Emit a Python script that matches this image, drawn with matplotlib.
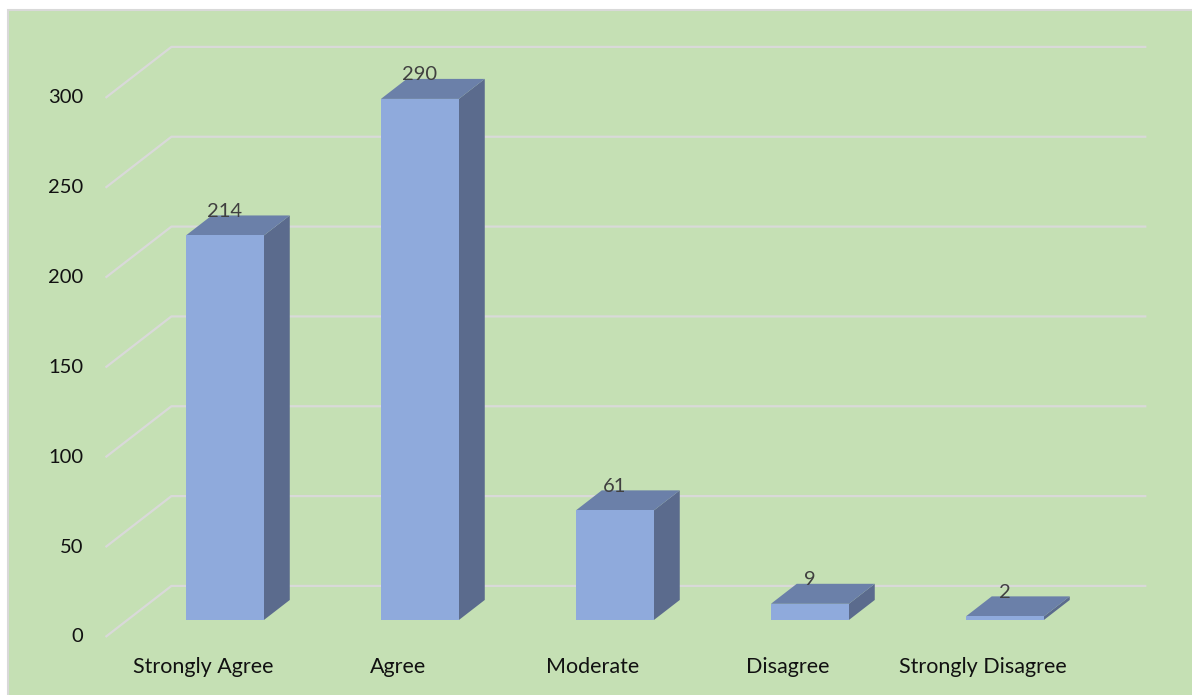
import numpy as np
import matplotlib
matplotlib.use('Agg')
import matplotlib.pyplot as plt
from matplotlib.patches import Polygon, Rectangle

# Survey responses
categories = ['Strongly Agree', 'Agree', 'Moderate', 'Disagree', 'Strongly Disagree']
counts = [214, 290, 61, 9, 2]
yticks = [0, 50, 100, 150, 200, 250, 300]

plt.rcParams['font.family'] = ['Lato', 'DejaVu Sans']

# fake 3D: oblique depth offset (category units, value units)
DX, DY = 0.338, 28.4
F0, F1 = 0.333, 0.725   # bar front / back depth fraction
BW = 0.4

fig = plt.figure(figsize=(11.92, 6.95), dpi=100)
ax = fig.add_axes([0, 0, 1, 1])
ax.set_xlim(-1.041, 5.072)
ax.set_ylim(-32.3, 354.5)
ax.axis('off')

# chart area background (runs off the right and bottom edges)
ax.add_patch(Rectangle((8 / 1192, -0.05), 1.1, 685 / 695 + 0.05, transform=ax.transAxes,
                       facecolor='#C5E0B4', edgecolor='#D9D9D9', lw=1.5, zorder=0))

# gridlines on side and back walls
x_left, x_right = -0.5, len(categories) - 0.5
for v in yticks:
    ax.plot([x_left, x_left + DX, x_right + DX], [v, v + DY, v + DY],
            color='#D9D9D9', lw=1.6, zorder=1, solid_capstyle='butt')
    ax.annotate(str(v), (x_left, v), xytext=(-16, 0), textcoords='offset points',
                ha='right', va='center', fontsize=14.5, color='#111111')

for i, (name, h) in enumerate(zip(categories, counts)):
    x0 = i - BW / 2 + F0 * DX
    x1 = i + BW / 2 + F0 * DX
    y0 = F0 * DY
    y1 = h + F0 * DY
    ddx, ddy = (F1 - F0) * DX, (F1 - F0) * DY
    side = [(x1, y0), (x1, y1), (x1 + ddx, y1 + ddy), (x1 + ddx, y0 + ddy)]
    top = [(x0, y1), (x1, y1), (x1 + ddx, y1 + ddy), (x0 + ddx, y1 + ddy)]
    ax.add_patch(Polygon(side, closed=True, facecolor='#5B6B8D', edgecolor='none', zorder=3))
    ax.add_patch(Polygon(top, closed=True, facecolor='#6B80A9', edgecolor='none', zorder=3))
    ax.add_patch(Rectangle((x0, y0), x1 - x0, h, facecolor='#8FAADC', edgecolor='none', zorder=4))
    ax.annotate(str(h), ((x0 + x1) / 2, y1), xytext=(0, 17.5), textcoords='offset points',
                ha='center', va='center', fontsize=14.5, color='#404040', zorder=5)
    ax.annotate(name, (i, 0), xytext=(0, -21.6), textcoords='offset points',
                ha='center', va='center', fontsize=15.5, color='#111111')

fig.savefig('out.png', dpi=100)
